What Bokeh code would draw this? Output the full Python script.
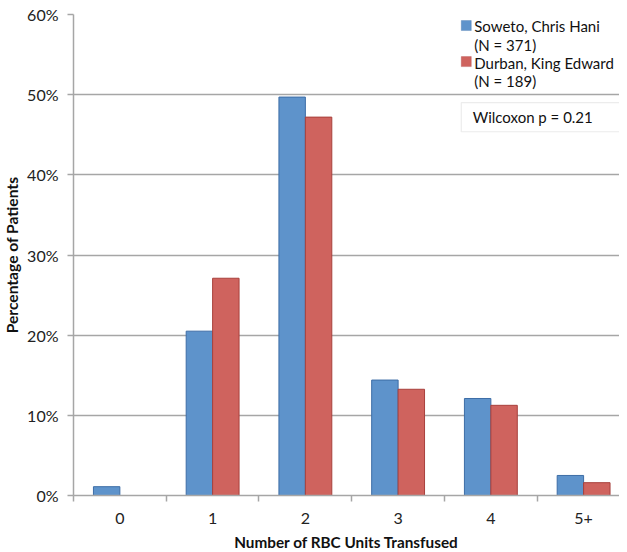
import numpy as np
from bokeh.plotting import figure
from bokeh.models import Range1d, FixedTicker, PrintfTickFormatter, BoxAnnotation, Label
from bokeh.embed import file_html
from bokeh.resources import INLINE

# ---- data ----
categories = ["0", "1", "2", "3", "4", "5+"]
soweto = [1.1, 20.5, 49.7, 14.4, 12.1, 2.5]
durban = [0.0, 27.1, 47.2, 13.25, 11.25, 1.6]
y_ticks = [0, 10, 20, 30, 40, 50, 60]
series_names = ["Soweto, Chris Hani", "Durban, King Edward"]
series_n = ["(N = 371)", "(N = 189)"]
stat_text = "Wilcoxon p = 0.21"

FONT = "Lato"
GREY = "#A6A6A6"
BLUE_FILL, BLUE_LINE = "#5E93CB", "#3D6DA6"
RED_FILL, RED_LINE = "#CF635E", "#A8403C"

idx = np.arange(len(categories))
bw = 0.285

p = figure(frame_width=546, frame_height=481,
           x_range=Range1d(-0.5, 5.387), y_range=Range1d(0, 60),
           output_backend="svg", toolbar_location=None,
           min_border_left=65, min_border_right=0,
           min_border_top=14, min_border_bottom=56)
p.outline_line_color = None
p.background_fill_color = "white"
p.border_fill_color = "white"

p.vbar(x=idx - bw / 2, top=soweto, width=bw, bottom=0,
       fill_color=BLUE_FILL, line_color=BLUE_LINE, line_width=1)
p.vbar(x=idx + bw / 2, top=durban, width=bw, bottom=0,
       fill_color=RED_FILL, line_color=RED_LINE, line_width=1)

# grid
p.xgrid.grid_line_color = None
p.ygrid.grid_line_color = GREY
p.ygrid.grid_line_width = 1.5
p.ygrid.ticker = FixedTicker(ticks=y_ticks)

# x axis
xa = p.xaxis[0]
xa.ticker = FixedTicker(ticks=list(idx), minor_ticks=list(np.arange(len(categories) + 1) - 0.5))
xa.major_label_overrides = {int(i): c for i, c in zip(idx, categories)}
xa.major_tick_line_color = None
xa.major_tick_out = 0
xa.major_tick_in = 0
xa.minor_tick_line_color = GREY
xa.minor_tick_line_width = 1.5
xa.minor_tick_out = 6
xa.minor_tick_in = 0
xa.axis_line_color = GREY
xa.axis_line_width = 1.5
xa.major_label_standoff = 11
xa.major_label_text_font = FONT
xa.major_label_text_font_size = "16px"
xa.major_label_text_color = "#222222"
xa.axis_label = "Number of RBC Units Transfused"
xa.axis_label_text_font = FONT
xa.axis_label_text_font_style = "bold"
xa.axis_label_text_font_size = "15.3px"
xa.axis_label_text_color = "#111111"
xa.axis_label_standoff = 6

# y axis
ya = p.yaxis[0]
ya.ticker = FixedTicker(ticks=y_ticks)
ya.formatter = PrintfTickFormatter(format="%d%%")
ya.major_tick_line_color = GREY
ya.major_tick_line_width = 1.5
ya.major_tick_out = 6
ya.major_tick_in = 0
ya.minor_tick_line_color = None
ya.axis_line_color = GREY
ya.axis_line_width = 1.5
ya.major_label_standoff = 9
ya.major_label_text_font = FONT
ya.major_label_text_font_size = "16px"
ya.major_label_text_color = "#222222"
ya.axis_label = "Percentage of Patients"
ya.axis_label_text_font = FONT
ya.axis_label_text_font_style = "bold"
ya.axis_label_text_font_size = "15.6px"
ya.axis_label_text_color = "#111111"
ya.axis_label_standoff = 3

# legend (manual)
p.add_layout(BoxAnnotation(left=3.681, right=3.789, top=59.25, bottom=58.0,
                           fill_color=BLUE_FILL, fill_alpha=1, line_color=BLUE_LINE, line_width=1))
p.add_layout(BoxAnnotation(left=3.681, right=3.789, top=54.75, bottom=53.5,
                           fill_color=RED_FILL, fill_alpha=1, line_color=RED_LINE, line_width=1))
for txt, yv in [(series_names[0], 58.56), (series_n[0], 56.19),
                (series_names[1], 54.0), (series_n[1], 51.69)]:
    p.add_layout(Label(x=3.821, y=yv, text=txt, text_baseline="middle",
                       text_font=FONT, text_font_size="15px", text_color="#111111"))

# stats box
p.add_layout(BoxAnnotation(left=3.681, right=5.45, top=49.0, bottom=45.375,
                           fill_color="white", fill_alpha=1, line_color="#BFBFBF", line_width=1.2))
p.add_layout(Label(x=3.804, y=47.19, text=stat_text, text_baseline="middle",
                   text_font=FONT, text_font_size="15px", text_color="#111111"))

open("out.html", "w").write(file_html(p, INLINE))
